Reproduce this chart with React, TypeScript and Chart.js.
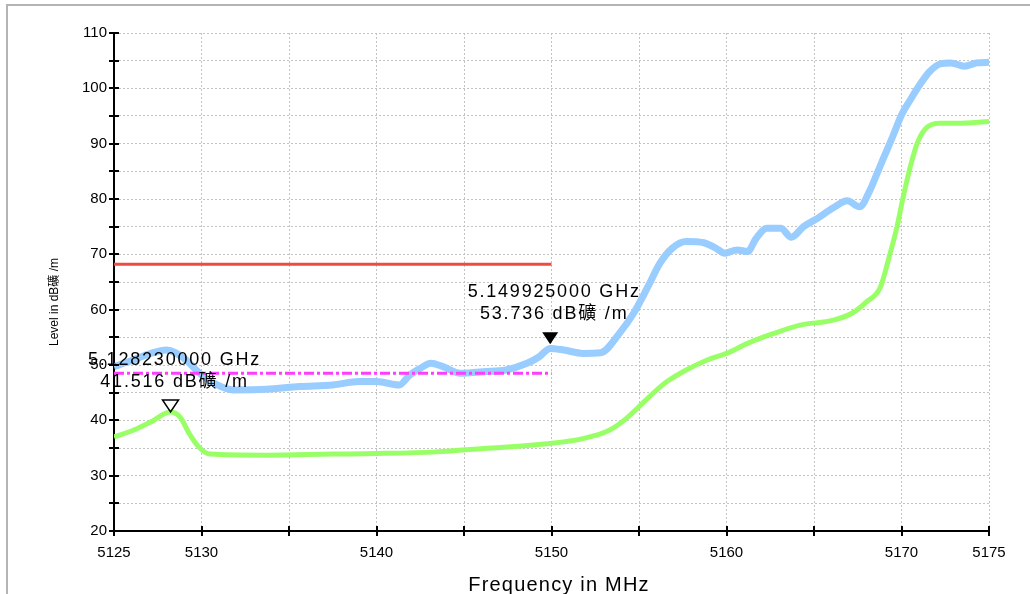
import React, { useEffect, useRef } from 'react';
import { Chart, registerables } from 'chart.js';

Chart.register(...registerables);

// ---- data ----
const peakFreq = [5125, 5126.1, 5127.1, 5128, 5129, 5129.9, 5130.9, 5131.8, 5133.7, 5135.6, 5137.5, 5139, 5140, 5141.3, 5141.9, 5142.5, 5143.1, 5143.8, 5144.8, 5146.1, 5147.4, 5148.6, 5149.3, 5149.925, 5150.7, 5151.8, 5152.8, 5153.9, 5154.7, 5155.5, 5156.2, 5156.9, 5157.7, 5158.7, 5159.4, 5159.9, 5160.6, 5161.2, 5161.7, 5162.3, 5163.1, 5163.7, 5164.4, 5165.2, 5166.1, 5166.9, 5167.6, 5168.2, 5168.6, 5169, 5169.5, 5170, 5170.5, 5171.1, 5171.6, 5172.2, 5172.8, 5173.6, 5174.3, 5175];
const peakLevel = [49.7, 50.9, 52.1, 52.7, 51.2, 48.5, 46.4, 45.5, 45.6, 46.1, 46.4, 47, 47, 46.4, 48.2, 49.4, 50.3, 49.7, 48.5, 48.8, 49.1, 50.3, 51.5, 53.0, 52.7, 52.1, 52.2, 55.8, 59.4, 64.1, 68.4, 71.1, 72.3, 72.1, 71.1, 70.2, 70.8, 70.5, 72.9, 74.7, 74.7, 73.1, 75, 76.5, 78.4, 79.7, 78.6, 81.6, 84.6, 87.6, 91.3, 95.2, 97.9, 100.9, 103, 104.4, 104.6, 104, 104.6, 104.7];

const avgFreq = [5125, 5126.1, 5127.1, 5128.23, 5128.8, 5129.3, 5129.9, 5130.5, 5133.7, 5137.5, 5140, 5143.4, 5146.1, 5149.9, 5151.8, 5153.3, 5154.3, 5155.6, 5156.6, 5157.7, 5158.9, 5160, 5161.2, 5162.7, 5164.2, 5166.1, 5167.2, 5168, 5168.8, 5169.3, 5169.7, 5170.1, 5170.5, 5170.9, 5171.4, 5172.2, 5173.2, 5175];
const avgLevel = [37.0, 38.2, 39.7, 41.5, 40.5, 37.6, 35.0, 33.9, 33.7, 33.9, 34.0, 34.3, 34.9, 35.8, 36.7, 38.2, 40.4, 44.3, 47.0, 49.1, 50.9, 52.1, 53.9, 55.7, 57.2, 58.1, 59.4, 61.4, 64.1, 69.6, 74.4, 80.4, 85.8, 90.1, 92.8, 93.7, 93.7, 94.0];

const limitFreq = [5125, 5150];
const peakLimit = [68.2, 68.2];
const avgLimit = [48.5, 48.5];

const markerFreq = [5128.23, 5149.925];
const markerLevel = [41.516, 53.736];
const markerFilled = [false, true];
const markerUnit = 'dB礦 /m';

const xTickLabels = [5125, 5130, 5140, 5150, 5160, 5170, 5175];
const yTickLabels = [20, 30, 40, 50, 60, 70, 80, 90, 100, 110];
const xTitle = 'Frequency in MHz';
const yTitle = 'Level in dB礦 /m';

const FONT = "'Liberation Sans', Arial, 'Noto Sans CJK SC', sans-serif";

const pts = (xs: number[], ys: number[]) => xs.map((x, i) => ({ x, y: ys[i] }));

const decor = {
  id: 'decor',
  afterDatasetsDraw(chart: any) {
    const ctx = chart.ctx;
    const xs = chart.scales.x;
    const ys = chart.scales.y;
    ctx.save();
    markerFreq.forEach((f, i) => {
      const px = xs.getPixelForValue(f);
      const py = ys.getPixelForValue(markerLevel[i]);
      ctx.beginPath();
      ctx.moveTo(px, py);
      ctx.lineTo(px - 8, py - 12);
      ctx.lineTo(px + 8, py - 12);
      ctx.closePath();
      ctx.lineWidth = 1.5;
      ctx.strokeStyle = '#000';
      if (markerFilled[i]) {
        ctx.fillStyle = '#000';
        ctx.fill();
      } else {
        ctx.stroke();
      }
      ctx.fillStyle = '#000';
      ctx.font = `18px ${FONT}`;
      (ctx as any).letterSpacing = '1.8px';
      ctx.textAlign = 'center';
      ctx.textBaseline = 'middle';
      ctx.fillText(`${(f / 1000).toFixed(9)} GHz`, px + 4, py - 52);
      ctx.fillText(`${markerLevel[i].toFixed(3)} ${markerUnit}`, px + 4, py - 30);
      (ctx as any).letterSpacing = '0px';
    });
    ctx.restore();
  },
  afterDraw(chart: any) {
    const ctx = chart.ctx;
    const xs = chart.scales.x;
    const ys = chart.scales.y;
    const area = chart.chartArea;
    ctx.save();
    ctx.strokeStyle = '#000';
    ctx.lineWidth = 2;
    ys.ticks.forEach((t: any) => {
      const y = Math.round(ys.getPixelForValue(t.value));
      ctx.beginPath();
      ctx.moveTo(area.left - 5, y);
      ctx.lineTo(area.left + 5, y);
      ctx.stroke();
    });
    xs.ticks.forEach((t: any) => {
      const x = Math.round(xs.getPixelForValue(t.value));
      ctx.beginPath();
      ctx.moveTo(x, area.bottom - 5);
      ctx.lineTo(x, area.bottom + 5);
      ctx.stroke();
    });
    // axis titles
    ctx.fillStyle = '#000';
    ctx.font = `20px ${FONT}`;
    (ctx as any).letterSpacing = '1.2px';
    ctx.textAlign = 'center';
    ctx.textBaseline = 'alphabetic';
    ctx.fillText(xTitle, 559, 591);
    (ctx as any).letterSpacing = '0px';
    ctx.translate(55, 302);
    ctx.rotate(-Math.PI / 2);
    ctx.font = `12px ${FONT}`;
    ctx.textBaseline = 'middle';
    ctx.fillText(yTitle, 0, 0);
    ctx.restore();
  },
};

export default function App() {
  const ref = useRef<HTMLCanvasElement | null>(null);
  useEffect(() => {
    if (!ref.current) return;
    const chart = new Chart(ref.current, {
      type: 'line',
      data: {
        datasets: [
          {
            data: pts(limitFreq, avgLimit),
            borderColor: '#ff3cff',
            borderWidth: 3,
            borderDash: [10, 3, 3, 3],
            pointRadius: 0,
            order: 0,
          },
          {
            data: pts(limitFreq, peakLimit),
            borderColor: '#ee4b43',
            borderWidth: 3,
            pointRadius: 0,
            order: 1,
          },
          {
            data: pts(peakFreq, peakLevel),
            borderColor: '#99ccff',
            borderWidth: 7,
            pointRadius: 0,
            cubicInterpolationMode: 'monotone',
            order: 2,
          },
          {
            data: pts(avgFreq, avgLevel),
            borderColor: '#99ff66',
            borderWidth: 5,
            pointRadius: 0,
            cubicInterpolationMode: 'monotone',
            order: 3,
          },
        ] as any,
      },
      options: {
        responsive: false,
        animation: false,
        layout: { padding: { left: 0, top: 33, right: 41, bottom: 0 } },
        plugins: { legend: { display: false }, tooltip: { enabled: false } },
        scales: {
          x: {
            type: 'linear',
            min: 5125,
            max: 5175,
            ticks: {
              stepSize: 5,
              autoSkip: false,
              maxRotation: 0,
              padding: 13,
              color: '#000',
              font: { family: FONT, size: 15 },
              callback: (v: any) => (xTickLabels.includes(Number(v)) ? String(v) : ''),
            },
            grid: { color: '#c4c4c4', lineWidth: 1, drawTicks: false },
            border: { color: '#000', width: 2, dash: [2, 2] },
            afterFit: (s: any) => {
              s.height = 63;
            },
          },
          y: {
            type: 'linear',
            min: 20,
            max: 110,
            ticks: {
              stepSize: 5,
              autoSkip: false,
              padding: 7,
              color: '#000',
              font: { family: FONT, size: 15 },
              callback: (v: any) => (yTickLabels.includes(Number(v)) ? String(v) : ''),
            },
            grid: { color: '#c4c4c4', lineWidth: 1, drawTicks: false },
            border: { color: '#000', width: 2, dash: [2, 2] },
            afterFit: (s: any) => {
              s.width = 114;
            },
          },
        },
      } as any,
      plugins: [decor],
    });
    return () => chart.destroy();
  }, []);

  return (
    <div style={{ position: 'fixed', left: 0, top: 0, width: 1030, height: 594, background: '#fff', overflow: 'hidden' }}>
      <div style={{ position: 'absolute', left: 6, top: 4, right: 0, bottom: 0, borderLeft: '2px solid #b4b4b4', borderTop: '2px solid #b4b4b4' }} />
      <canvas ref={ref} width={1030} height={594} style={{ position: 'absolute', left: 0, top: 0 }} />
    </div>
  );
}
